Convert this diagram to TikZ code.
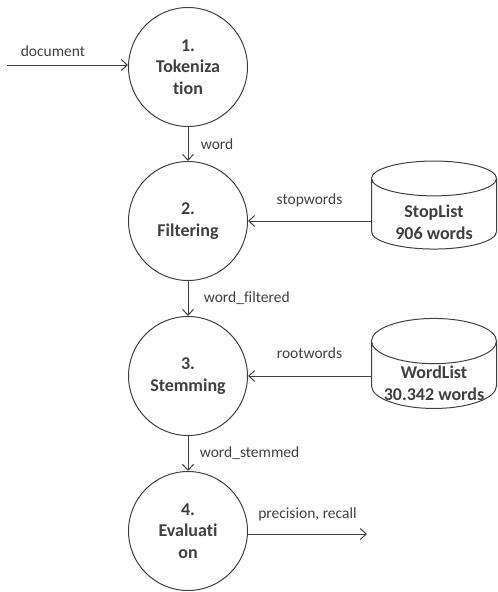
\documentclass[tikz,border=0pt]{standalone}
\usepackage{fontspec}
\setmainfont{Carlito}[Ligatures=NoCommon]
\usetikzlibrary{positioning,shapes.geometric,arrows.meta}
\definecolor{ink}{HTML}{404040}
\newcommand{\lidgap}{\rule{0pt}{30pt}}
\tikzset{
  proc/.style={circle, draw=ink, line width=1pt, minimum size=119pt, inner sep=0pt,
    align=center, text=ink, font=\fontsize{18}{21.5}\selectfont\bfseries},
  store/.style={cylinder, shape border rotate=90, draw=ink, line width=1pt, aspect=0.45,
    minimum width=125pt, minimum height=88pt, inner xsep=0pt, inner ysep=-20pt, align=center, text=ink,
    font=\fontsize{18}{22}\selectfont\bfseries},
  flow/.style={draw=ink, line width=1pt, -{Straight Barb[length=6pt,width=11pt]}},
  lbl/.style={font=\fontsize{15.5}{18}\selectfont, text=ink}
}
\begin{document}
\begin{tikzpicture}[x=1pt,y=-1pt]
\useasboundingbox (0,0) rectangle (498,592);
% processes
\node[proc] (tok) at (188,67) {1.\\Tokeniza\\tion};
\node[proc] (filt) at (188,221) {2.\\Filtering};
\node[proc] (stem) at (188,376) {3.\\Stemming};
\node[proc] (eval) at (188,531) {4.\\Evaluati\\on};
% stores
\node[store] (stop) at (434,214) {\lidgap StopList\\906 words};
\node[store, minimum height=90pt] (wlist) at (434,375) {\lidgap WordList\\30.342 words};
% free ends
\coordinate (docin) at (7,65);
\coordinate (out) at (367,534);
% flows
\draw[flow] (docin) -- (docin -| tok.west) node[lbl, pos=0.38, above=5pt]{document};
\draw[flow] (tok) -- (filt) node[lbl, midway, right=9pt]{word};
\draw[flow] (filt) -- (stem) node[lbl, midway, right=12pt]{word\_filtered};
\draw[flow] (stem) -- (eval) node[lbl, midway, right=8pt]{word\_stemmed};
\draw[flow] (filt.east -| stop.west) -- (filt.east) node[lbl, midway, above=10pt]{stopwords};
\draw[flow] (stem.east -| wlist.west) -- (stem.east) node[lbl, midway, above=14pt]{rootwords};
\draw[flow] (eval.east |- out) -- (out) node[lbl, midway, above=9pt]{precision, recall};
\end{tikzpicture}
\end{document}
